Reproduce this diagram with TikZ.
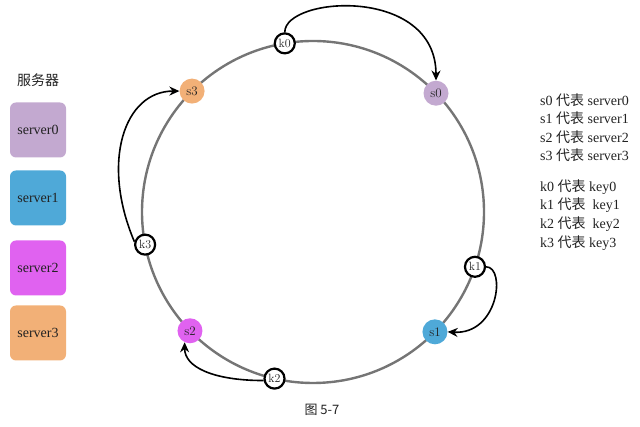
\documentclass[tikz,border=0pt]{standalone}
\usepackage{fontspec}
\setmainfont{Liberation Serif}
\newfontfamily\cjk{Noto Sans CJK SC}
\usetikzlibrary{arrows.meta}
\definecolor{cs0}{HTML}{C3A9D0}
\definecolor{cs1}{HTML}{4FA9D8}
\definecolor{cs2}{HTML}{E062F0}
\definecolor{cs3}{HTML}{F2B077}
\definecolor{ringgray}{HTML}{757575}
\definecolor{txt}{HTML}{222222}
\tikzset{
  snode/.style={circle, inner sep=0pt, minimum size=25pt, text=txt,
    font=\fontfamily{lmr}\selectfont\fontsize{13}{13}\selectfont},
  knode/.style={circle, draw=black, line width=2.2pt, fill=white, inner sep=0pt,
    minimum size=20pt, text=txt, font=\fontfamily{lmr}\selectfont\fontsize{12}{12}\selectfont},
  legbox/.style={rounded corners=6pt, minimum width=56pt, minimum height=55pt,
    inner sep=0pt, text=txt, font=\fontsize{14}{14}\selectfont},
  legtext/.style={anchor=west, inner sep=0pt, text=txt, font=\fontsize{14}{14}\selectfont},
  arr/.style={draw=black, line width=1.6pt, -{Stealth[length=10pt,width=9pt]}},
}
\begin{document}
\begin{tikzpicture}[x=1pt,y=1pt]
\useasboundingbox (0,0) rectangle (640,427);
% ring
\coordinate (c) at (313,215);
\draw[ringgray, line width=2.4pt] (c) circle (171);
\begin{scope}[shift={(313,215)}]
  \node[snode, fill=cs0] (s0) at (44:171) {s0};
  \node[snode, fill=cs1] (s1) at (-44.5:171) {s1};
  \node[snode, fill=cs2] (s2) at (224:171) {s2};
  \node[snode, fill=cs3] (s3) at (135:171) {s3};
  \node[knode] (k0) at (99.5:171) {k0};
  \node[knode] (k1) at (-18.7:171) {k1};
  \node[knode] (k2) at (257:171) {k2};
  \node[knode] (k3) at (191:171) {k3};
\end{scope}
% arrows
\draw[arr] (k0.north) .. controls +(0,36) and +(0,95) .. (s0.north);
\draw[arr] (k1.east) .. controls +(20,0) and +(51,-3) .. (s1.east);
\draw[arr] (k2.190) .. controls +(-50,0) and +(0,-25) .. (s2.-115);
\draw[arr] (k3.165) .. controls +(-34,80) and +(-55,0) .. (s3.west);
% legend
\node[inner sep=0pt, text=txt, font=\cjk\fontsize{14}{14}\selectfont] (title) at (38,347) {服务器};
\node[legbox, fill=cs0] (b0) at (38,297) {server0};
\node[legbox, fill=cs1] (b1) at (38,229) {server1};
\node[legbox, fill=cs2] (b2) at (38,159) {server2};
\node[legbox, fill=cs3] (b3) at (38,94) {server3};
% right text
\node[legtext] (t0) at (540,327) {s0 {\cjk 代表} server0};
\node[legtext] (t1) at (540,309) {s1 {\cjk 代表} server1};
\node[legtext] (t2) at (540,290) {s2 {\cjk 代表} server2};
\node[legtext] (t3) at (540,272) {s3 {\cjk 代表} server3};
\node[legtext] (u0) at (540,240) {k0 {\cjk 代表} key0};
\node[legtext] (u1) at (540,222) {k1 {\cjk 代表}\ \ key1};
\node[legtext] (u2) at (540,203) {k2 {\cjk 代表}\ \ key2};
\node[legtext] (u3) at (540,184) {k3 {\cjk 代表} key3};
% caption
\node[inner sep=0pt, text=txt, font=\cjk\fontsize{13}{13}\selectfont] (cap) at (322,17) {图 5-7};
\end{tikzpicture}
\end{document}
